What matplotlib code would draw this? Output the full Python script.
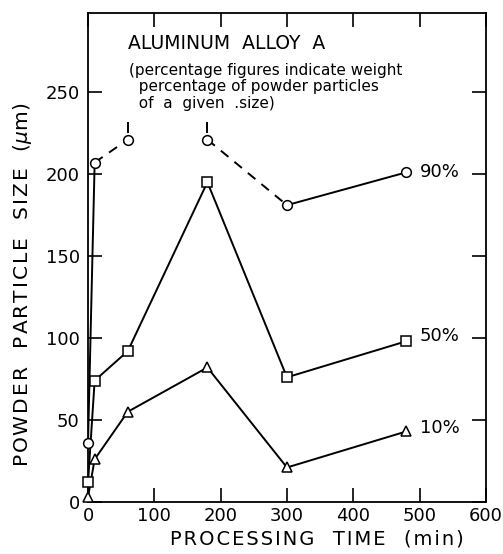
import matplotlib.pyplot as plt

# processing time (min)
time = [0, 10, 60, 180, 300, 480]
# particle size (um) for each weight percentage
size_90 = [36, 207, 221, 221, 181, 201]
size_50 = [12, 74, 92, 195, 76, 98]
size_10 = [3, 26, 55, 82, 21, 43]
x_ticks = [0, 100, 200, 300, 400, 500, 600]
y_ticks = [0, 50, 100, 150, 200, 250]

plt.rcParams['font.family'] = ['DejaVu Sans']


def spaced(s, gap='\u200a'):
    # widen letter spacing like the old stencil lettering
    return gap.join(s)


fig = plt.figure(figsize=(5.03, 5.54), dpi=100)
ax = fig.add_axes([0.175, 0.094, 0.791, 0.882])

lw = 1.4
mk = dict(markerfacecolor='white', markeredgecolor='black', markersize=7,
          markeredgewidth=1.1, clip_on=False, zorder=5)

# 90% curve: solid / dashed / gap / dashed / solid
ax.plot(time[0:2], size_90[0:2], 'k-', lw=lw)
ax.plot(time[1:3], size_90[1:3], 'k--', lw=lw, dashes=(5, 4))
ax.plot(time[3:5], size_90[3:5], 'k--', lw=lw, dashes=(5, 4))
ax.plot(time[4:6], size_90[4:6], 'k-', lw=lw)
ax.plot(time, size_90, 'o', linestyle='none', **mk)
ax.vlines([time[2], time[3]], 225, 232, colors='black', lw=lw)

ax.plot(time, size_50, 'k-', lw=lw)
ax.plot(time, size_50, 's', linestyle='none', **mk)
ax.plot(time, size_10, 'k-', lw=lw)
ax.plot(time, size_10, '^', linestyle='none', **mk)

ax.set_xlim(0, 600)
ax.set_ylim(0, 298)
ax.set_xticks(x_ticks)
ax.set_yticks(y_ticks)
ax.tick_params(direction='in', length=10, width=1.2, labelsize=13,
               top=True, right=True)
ax.tick_params(axis='x', pad=4)
ax.tick_params(axis='y', pad=6)
for s in ax.spines.values():
    s.set_linewidth(1.3)

ax.set_xlabel(spaced('PROCESSING  TIME  (min)'), fontsize=14)
ax.xaxis.set_label_coords(0.575, -0.056, transform=ax.transAxes)
ax.xaxis.label.set_va('top')
ax.set_ylabel(spaced('POWDER  PARTICLE  SIZE  ') + '($\\mu$m)', fontsize=14.5)
ax.yaxis.set_label_coords(-0.135, 0.445)

ax.text(0.10, 0.939, 'ALUMINUM  ALLOY  A', transform=ax.transAxes,
        fontsize=13.5, va='center')
ax.text(0.102, 0.898,
        '(percentage figures indicate weight\n  percentage of powder particles\n  of  a  given  .size)',
        transform=ax.transAxes, fontsize=11, va='top', linespacing=1.1)

ax.text(500, size_90[5], '90%', fontsize=13, va='center')
ax.text(500, size_50[5] + 3, '50%', fontsize=13, va='center')
ax.text(500, size_10[5] + 2, '10%', fontsize=13, va='center')

fig.savefig('out.png', dpi=100)
